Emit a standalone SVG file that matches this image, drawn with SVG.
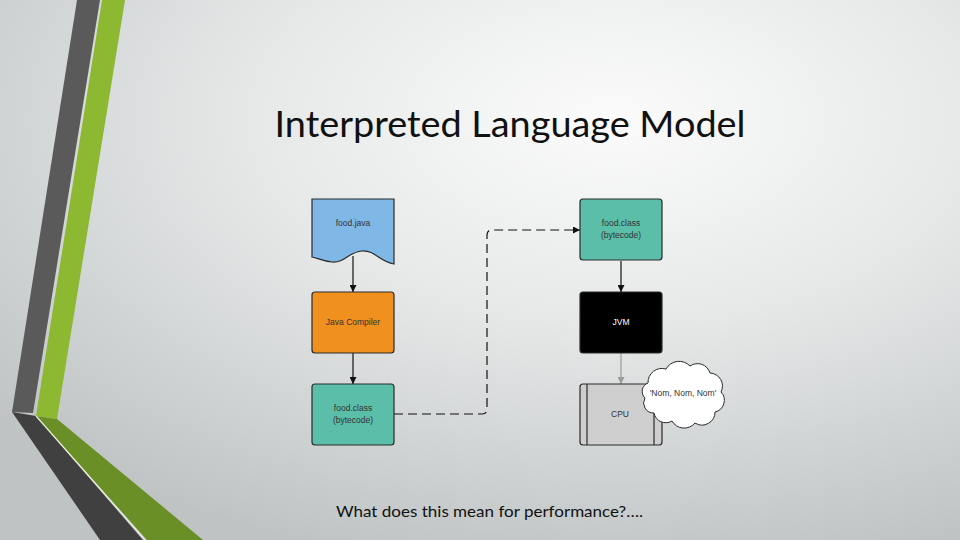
<svg xmlns="http://www.w3.org/2000/svg" width="960" height="540" viewBox="0 0 960 540">
<defs>
  <radialGradient id="bg" cx="0.64" cy="0.22" r="0.85" fx="0.64" fy="0.22">
    <stop offset="0" stop-color="#fbfbfb"/>
    <stop offset="0.45" stop-color="#e6e8e8"/>
    <stop offset="1" stop-color="#bfc3c4"/>
  </radialGradient>
  <marker id="ah" viewBox="0 0 10 10" refX="10" refY="5" markerWidth="7" markerHeight="7" markerUnits="userSpaceOnUse" orient="auto">
    <path d="M0,0 L10,5 L0,10 z" fill="#111"/>
  </marker>
  <marker id="ahg" viewBox="0 0 10 10" refX="10" refY="5" markerWidth="7" markerHeight="7" markerUnits="userSpaceOnUse" orient="auto">
    <path d="M0,0 L10,5 L0,10 z" fill="#9a9a9a"/>
  </marker>
  <style>
    .box { stroke: #2a2a2a; stroke-width: 1.2; }
    .lbl { font-family: "Liberation Sans", Arial, sans-serif; font-size: 8.5px; fill: #333; text-anchor: middle; }
    .con { fill: none; stroke: #111; stroke-width: 1.2; }
    .slide { font-family: Lato, "Liberation Sans", Arial, sans-serif; fill: #111; }
  </style>
</defs>
<rect width="960" height="540" fill="url(#bg)"/>
<!-- decorative stripes -->
<polygon points="77,0 100,0 33,413 12,412" fill="#5a5a5a"/>
<polygon points="12,412 36,416 143,540 100,540" fill="#404040"/>
<polygon points="102,0 125,0 57,419 36,416" fill="#8cb832"/>
<polygon points="36,416 57,419 203,540 147,540" fill="#6a8f26"/>
<line x1="36" y1="416" x2="145" y2="540" stroke="#e8f0d8" stroke-width="1.2"/>

<text class="slide" x="510" y="137" font-size="36" text-anchor="middle" textLength="471" lengthAdjust="spacingAndGlyphs">Interpreted Language Model</text>

<g id="connectors">
  <line class="con" x1="353" y1="256" x2="353" y2="292" marker-end="url(#ah)"/>
  <line class="con" x1="353" y1="353" x2="353" y2="384" marker-end="url(#ah)"/>
  <line class="con" x1="621" y1="261" x2="621" y2="292" marker-end="url(#ah)"/>
  <line x1="621" y1="353" x2="621" y2="384" stroke="#9a9a9a" stroke-width="1.2" marker-end="url(#ahg)"/>
  <path class="con" d="M394,414 H482 Q487,414 487,409 V235 Q487,230 492,230 H580" stroke-width="1.5" stroke-dasharray="9,5" marker-end="url(#ah)"/>
</g>

<g id="food-java">
  <path class="box" fill="#7fb8e6" d="M312,199 H394 V264 C380,262 375,250 362,251 C348,252 345,263 332,262 C322,261 318,258 312,257 Z"/>
  <text class="lbl" x="353" y="226">food.java</text>
</g>
<g id="java-compiler">
  <rect class="box" x="312" y="292" width="82" height="61" rx="3" fill="#f0901f"/>
  <text class="lbl" x="353" y="325">Java Compiler</text>
</g>
<g id="food-class-left">
  <rect class="box" x="312" y="384" width="82" height="61" rx="3" fill="#5bbea8"/>
  <text class="lbl" x="353" y="411">food.class</text>
  <text class="lbl" x="353" y="423">(bytecode)</text>
</g>
<g id="food-class-right">
  <rect class="box" x="580" y="199" width="82" height="61" rx="3" fill="#5bbea8"/>
  <text class="lbl" x="621" y="226">food.class</text>
  <text class="lbl" x="621" y="238">(bytecode)</text>
</g>
<g id="jvm">
  <rect class="box" x="580" y="292" width="82" height="61" rx="3" fill="#000"/>
  <text class="lbl" x="621" y="325" style="fill:#fff">JVM</text>
</g>
<g id="cpu">
  <rect class="box" x="580" y="384" width="82" height="61" rx="3" fill="#cfcfcf"/>
  <line x1="587" y1="384" x2="587" y2="445" stroke="#2a2a2a" stroke-width="1.2"/>
  <line x1="654" y1="384" x2="654" y2="445" stroke="#2a2a2a" stroke-width="1.2"/>
  <text class="lbl" x="620" y="417">CPU</text>
</g>
<g id="cloud">
  <path fill="#fff" stroke="#2a2a2a" stroke-width="1" d="M648,383 A14,14 0 0 1 666,369 A15,15 0 0 1 690,366 A13,13 0 0 1 710,373 A13,13 0 0 1 721,392 A12,12 0 0 1 715,412 A13,13 0 0 1 695,423 A14,14 0 0 1 672,421 A12,12 0 0 1 654,413 A10,10 0 0 1 645,398 A9,9 0 0 1 648,383 Z"/>
  <text class="lbl" x="683" y="396">'Nom, Nom, Nom'</text>
</g>

<text class="slide" x="336" y="517" font-size="16" textLength="307" lengthAdjust="spacingAndGlyphs">What does this mean for performance?….</text>
</svg>
